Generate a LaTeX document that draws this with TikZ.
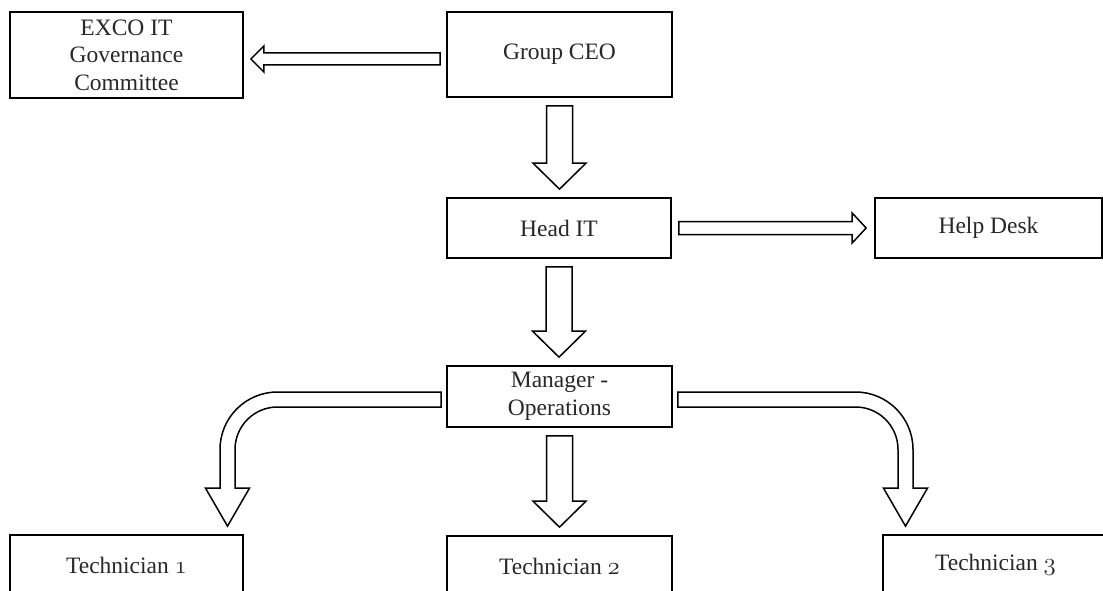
\documentclass[tikz,border=0pt]{standalone}
\usepackage{fontspec}
\setmainfont{Liberation Serif}
\usetikzlibrary{calc}
\newcommand\osn[1]{{\fontencoding{OML}\fontfamily{cmm}\fontseries{m}\fontshape{it}\selectfont #1}}
\definecolor{txt}{RGB}{40,40,40}
\tikzset{
  box/.style={draw=black, line width=1.7pt, fill=white, align=center, inner sep=0pt,
    font=\fontsize{23.5}{27.5}\selectfont, text=txt},
  harrow/.style={draw=black, line width=1.5pt, fill=white, line join=miter},
}
\newcommand\varr[2]{%
  \draw[harrow] let \p1=(#1.south), \p2=(#2.north) in
   (\x1-13pt,\y1-8pt) -- (\x1+13pt,\y1-8pt) -- (\x1+13pt,\y2+34pt) -- (\x1+26.5pt,\y2+34pt)
   -- (\x1,\y2+8pt) -- (\x1-26.5pt,\y2+34pt) -- (\x1-13pt,\y2+34pt) -- cycle;}
\begin{document}
\begin{tikzpicture}[x=1pt,y=-1pt]
\useasboundingbox (0,0) rectangle (1103,591);
% boxes
\node[box, minimum width=233pt, minimum height=86pt] (exco) at (126.5,55) {EXCO IT\\Governance\\Committee};
\node[box, minimum width=225pt, minimum height=85pt] (ceo) at (559.5,54.5) {Group CEO};
\node[box, minimum width=224pt, minimum height=60pt] (head) at (559,228) {Head IT};
\node[box, minimum width=227pt, minimum height=60pt] (help) at (988.5,228) {Help Desk};
\node[box, minimum width=225pt, minimum height=61pt] (mgr) at (559.5,396.5) {Manager -\\Operations};
\node[box, minimum width=233pt, minimum height=60pt] (t1) at (126.5,565) {Technician \osn{1}};
\node[box, minimum width=225pt, minimum height=60pt] (t2) at (559.5,566) {Technician \osn{2}};
\node[box, minimum width=225pt, minimum height=60pt] (t3) at (995.5,565) {Technician \osn{3}};
\coordinate (c1) at (227.5,399.5);
\coordinate (c2) at (905.5,399.5);
% CEO -> EXCO
\draw[harrow] let \p1=(ceo.west), \p2=(exco.east) in
  (\x1-6pt,\y1+1.5pt) -- (\x2+20pt,\y1+1.5pt) -- (\x2+20pt,\y1+8.5pt) -- (\x2+7pt,\y1-4.5pt)
  -- (\x2+20pt,\y1-17.5pt) -- (\x2+20pt,\y1-10.5pt) -- (\x1-6pt,\y1-10.5pt) -- cycle;
% Head IT -> Help Desk
\draw[harrow] let \p1=(head.east), \p2=(help.west) in
  (\x1+7pt,\y1+6.5pt) -- (\x2-22pt,\y1+6.5pt) -- (\x2-22pt,\y1+15pt) -- (\x2-8pt,\y1)
  -- (\x2-22pt,\y1-15pt) -- (\x2-22pt,\y1-6.5pt) -- (\x1+7pt,\y1-6.5pt) -- cycle;
% vertical arrows
\varr{ceo}{head}
\varr{head}{mgr}
\varr{mgr}{t2}
% curved left
\draw[harrow] let \p1=(mgr.west), \p2=(t1.north), \p3=(c1) in
  (\x1-5pt,\y3+7.5pt) -- (\x3+50pt,\y3+7.5pt) arc[start angle=90,end angle=180,radius=57.5pt]
  -- (\x3-7.5pt,\y2+46pt) -- (\x3-22pt,\y2+46pt) -- (\x3,\y2+8pt) -- (\x3+22pt,\y2+46pt)
  -- (\x3+7.5pt,\y2+46pt) -- (\x3+7.5pt,\y3-50pt) arc[start angle=180,end angle=90,radius=42.5pt]
  -- (\x1-5pt,\y3-7.5pt) -- cycle;
% curved right
\draw[harrow] let \p1=(mgr.east), \p2=(t3.north), \p3=(c2) in
  (\x1+5pt,\y3+7.5pt) -- (\x3-50pt,\y3+7.5pt) arc[start angle=90,end angle=0,radius=57.5pt]
  -- (\x3+7.5pt,\y2+46pt) -- (\x3+22pt,\y2+46pt) -- (\x3,\y2+8pt) -- (\x3-22pt,\y2+46pt)
  -- (\x3-7.5pt,\y2+46pt) -- (\x3-7.5pt,\y3-50pt) arc[start angle=0,end angle=90,radius=42.5pt]
  -- (\x1+5pt,\y3-7.5pt) -- cycle;
\end{tikzpicture}
\end{document}
